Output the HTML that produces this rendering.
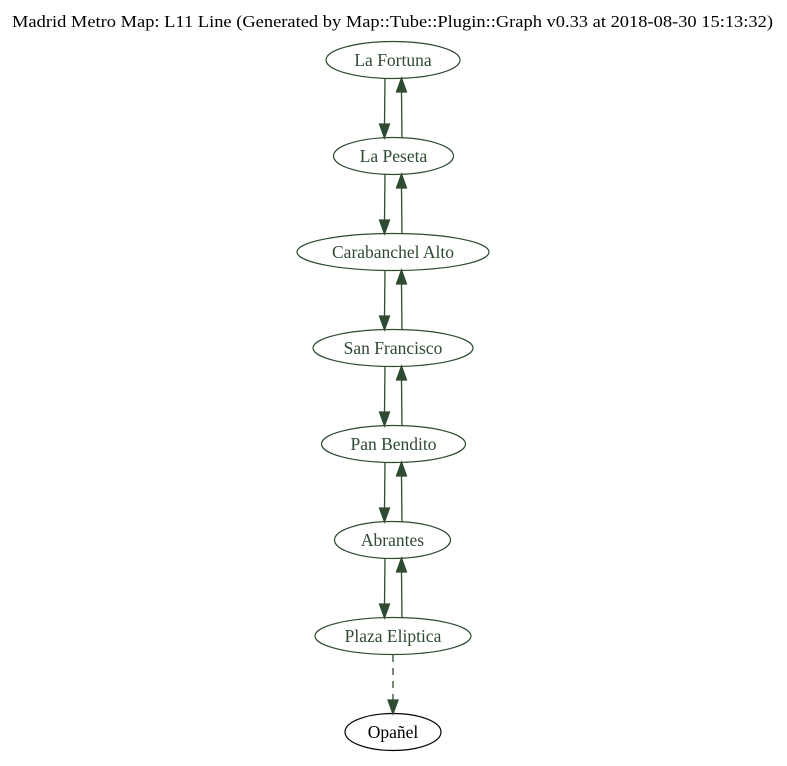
<!DOCTYPE html>
<html><head><meta charset="utf-8"><style>html,body{margin:0;padding:0;background:#fff}</style></head>
<body>
<svg width="787" height="761" viewBox="0 0 787 761" xmlns="http://www.w3.org/2000/svg" font-family="Liberation Serif, serif">
<rect width="787" height="761" fill="#fff"/>
<text x="12" y="27" font-size="17" textLength="761" lengthAdjust="spacingAndGlyphs" fill="#000">Madrid Metro Map: L11 Line (Generated by Map::Tube::Plugin::Graph v0.33 at 2018-08-30 15:13:32)</text>
<g fill="none" stroke="#2e4a30" stroke-width="1.2">
<ellipse cx="393" cy="60" rx="67" ry="18.5"/>
<ellipse cx="393.5" cy="156" rx="60" ry="18.5"/>
<ellipse cx="393" cy="252" rx="96" ry="18.5"/>
<ellipse cx="393" cy="348" rx="80" ry="18.5"/>
<ellipse cx="393.5" cy="444" rx="72" ry="18.5"/>
<ellipse cx="392.5" cy="540" rx="58" ry="18.5"/>
<ellipse cx="393" cy="636" rx="78" ry="18.5"/>
</g>
<ellipse cx="393" cy="732" rx="48" ry="18.5" fill="none" stroke="#000" stroke-width="1.2"/>
<g fill="#2e4a30" font-size="17.5" text-anchor="middle">
<text x="393" y="66">La Fortuna</text>
<text x="393.5" y="162">La Peseta</text>
<text x="393" y="258">Carabanchel Alto</text>
<text x="393" y="354">San Francisco</text>
<text x="393.5" y="450">Pan Bendito</text>
<text x="392.5" y="546">Abrantes</text>
<text x="393" y="642">Plaza Eliptica</text>
</g>
<text x="393" y="738" font-size="17.5" text-anchor="middle" fill="#000">Opañel</text>
<g stroke="#2e4a30" stroke-width="1.3" fill="#2e4a30">
<g>
<line x1="385" y1="78" x2="384.5" y2="124"/><polygon points="379.5,124 389.5,124 384.5,138"/>
<line x1="402" y1="138" x2="401.5" y2="92"/><polygon points="396.5,92 406.5,92 401.5,78"/>
</g>
<g>
<line x1="385" y1="174" x2="384.5" y2="220"/><polygon points="379.5,220 389.5,220 384.5,234"/>
<line x1="402" y1="234" x2="401.5" y2="188"/><polygon points="396.5,188 406.5,188 401.5,174"/>
</g>
<g>
<line x1="385" y1="270" x2="384.5" y2="316"/><polygon points="379.5,316 389.5,316 384.5,330"/>
<line x1="402" y1="330" x2="401.5" y2="284"/><polygon points="396.5,284 406.5,284 401.5,270"/>
</g>
<g>
<line x1="385" y1="366" x2="384.5" y2="412"/><polygon points="379.5,412 389.5,412 384.5,426"/>
<line x1="402" y1="426" x2="401.5" y2="380"/><polygon points="396.5,380 406.5,380 401.5,366"/>
</g>
<g>
<line x1="385" y1="462" x2="384.5" y2="508"/><polygon points="379.5,508 389.5,508 384.5,522"/>
<line x1="402" y1="522" x2="401.5" y2="476"/><polygon points="396.5,476 406.5,476 401.5,462"/>
</g>
<g>
<line x1="385" y1="558" x2="384.5" y2="604"/><polygon points="379.5,604 389.5,604 384.5,618"/>
<line x1="402" y1="618" x2="401.5" y2="572"/><polygon points="396.5,572 406.5,572 401.5,558"/>
</g>
<line x1="393" y1="655" x2="393" y2="700" stroke-dasharray="7,6"/><polygon points="388,700 398,700 393,714"/>
</g>
</svg>
</body></html>
